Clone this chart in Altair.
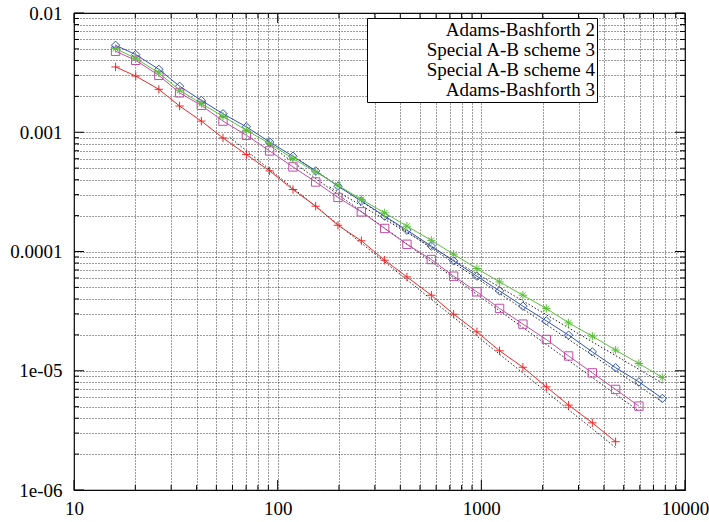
import altair as alt
import pandas as pd

# ---------------- data ----------------
series_names = ["Adams-Bashforth 2", "Special A-B scheme 3",
                "Special A-B scheme 4", "Adams-Bashforth 3"]

x_values = [16.0, 20.1, 26.1, 33.0, 42.2, 53.9, 70.2, 91.3, 118.9, 153.7,
            197.8, 257.6, 335.2, 431.2, 568.3, 731, 951, 1229, 1600, 2085,
            2683, 3507, 4564, 5938, 7736]

ab2_err = [3.53e-3, 2.96e-3, 2.29e-3, 1.66e-3, 1.24e-3, 8.96e-4, 6.50e-4,
           4.74e-4, 3.31e-4, 2.40e-4, 1.66e-4, 1.23e-4, 8.45e-5, 6.12e-5,
           4.30e-5, 2.98e-5, 2.12e-5, 1.47e-5, 1.07e-5, 7.33e-6, 5.15e-6,
           3.66e-6, 2.54e-6]
sab3_err = [4.78e-3, 4.01e-3, 3.00e-3, 2.14e-3, 1.68e-3, 1.24e-3, 9.44e-4,
            6.97e-4, 5.12e-4, 3.83e-4, 2.84e-4, 2.15e-4, 1.56e-4, 1.15e-4,
            8.57e-5, 6.21e-5, 4.59e-5, 3.33e-5, 2.46e-5, 1.83e-5, 1.33e-5,
            9.60e-6, 6.97e-6, 5.05e-6]
sab4_err = [5.36e-3, 4.48e-3, 3.37e-3, 2.43e-3, 1.85e-3, 1.43e-3, 1.11e-3,
            8.29e-4, 6.29e-4, 4.74e-4, 3.53e-4, 2.65e-4, 1.98e-4, 1.51e-4,
            1.11e-4, 8.34e-5, 6.21e-5, 4.67e-5, 3.48e-5, 2.62e-5, 1.99e-5,
            1.44e-5, 1.06e-5, 8.07e-6, 5.86e-6]
ab3_err = [5.03e-3, 4.17e-3, 3.14e-3, 2.25e-3, 1.74e-3, 1.36e-3, 1.04e-3,
           8.04e-4, 6.02e-4, 4.65e-4, 3.59e-4, 2.73e-4, 2.11e-4, 1.63e-4,
           1.24e-4, 9.49e-5, 7.20e-5, 5.56e-5, 4.30e-5, 3.33e-5, 2.52e-5,
           1.95e-5, 1.49e-5, 1.15e-5, 8.79e-6]

# dotted reference lines (one per scheme): start / end points
ref_x_start = [58.1, 91.3, 128.3, 180.0]
ref_y_start = [9.08e-4, 7.77e-4, 5.81e-4, 3.48e-4]
ref_x_end = [4564, 5938, 7736, 7736]
ref_y_end = [2.27e-6, 4.59e-6, 5.49e-6, 7.87e-6]

x_major_ticks = [10, 100, 1000, 10000]
x_major_labels = ["10", "100", "1000", "10000"]
y_major_ticks = [1e-6, 1e-5, 1e-4, 1e-3, 1e-2]
y_major_labels = ["1e-06", "1e-05", "0.0001", "0.001", "0.01"]

# ---------------- styling ----------------
colors = ["#f02828", "#c44ba8", "#3456b4", "#5cbf3c"]
marker_paths = [
    "M-1,0H1M0,-1V1",
    "M-1,-1H1V1H-1Z",
    "M0,-1L1,0L0,1L-1,0Z",
    "M-1,0H1M0,-1V1M-0.7,-0.7L0.7,0.7M-0.7,0.7L0.7,-0.7",
]
legend_paths = [
    "M-1,0H1M0,-0.16V0.16M1.33,0",
    "M-1,0H1M-0.15,-0.15H0.15V0.15H-0.15ZM1.33,0",
    "M-1,0H1M0,-0.13L0.13,0L0,0.13L-0.13,0ZM1.33,0",
    "M-1,0H1M0,-0.16V0.16M-0.11,-0.11L0.11,0.11M-0.11,0.11L0.11,-0.11M1.33,0",
]
W, H = 611, 477
FONT = "Liberation Serif, Times New Roman, DejaVu Serif, serif"
FS = 19

# ---------------- tables ----------------
all_err = [ab2_err, sab3_err, sab4_err, ab3_err]
rows = []
for name, errs in zip(series_names, all_err):
    for xv, yv in zip(x_values, errs):
        rows.append({"series": name, "x": xv, "y": yv})
df = pd.DataFrame(rows)

ref_rows = []
for i, name in enumerate(series_names):
    ref_rows.append({"ref": name, "x": ref_x_start[i], "y": ref_y_start[i]})
    ref_rows.append({"ref": name, "x": ref_x_end[i], "y": ref_y_end[i]})
ref_df = pd.DataFrame(ref_rows)

x_minor_ticks = [k * 10 ** e for e in (1, 2, 3) for k in range(2, 10)]
y_minor_ticks = [k * 10.0 ** e for e in (-6, -5, -4, -3) for k in range(2, 10)]


def label_expr(vals, labels):
    expr = "''"
    for v, l in zip(vals, labels):
        expr = f"datum.value == {v!r} ? '{l}' : ({expr})"
    return expr


x_scale = alt.Scale(type="log", domain=[10, 10000], nice=False)
y_scale = alt.Scale(type="log", domain=[1e-6, 1e-2], nice=False)
stroke_scale = alt.Scale(domain=series_names, range=colors)

grid_kw = dict(grid=True, gridDash=[1, 2], gridColor="#222222", gridOpacity=1,
               gridWidth=0.9, ticks=False, domain=False, labelFont=FONT,
               labelFontSize=FS, labelColor="black", labelFlush=False,
               labelOverlap=False)
x_axis = alt.Axis(values=x_major_ticks + x_minor_ticks,
                  labelExpr=label_expr(x_major_ticks, x_major_labels),
                  labelPadding=9, **grid_kw)
y_axis = alt.Axis(values=y_major_ticks + y_minor_ticks,
                  labelExpr=label_expr(y_major_ticks, y_major_labels),
                  labelPadding=12, **grid_kw)

X = alt.X("x:Q", scale=x_scale, axis=x_axis, title=None)
Y = alt.Y("y:Q", scale=y_scale, axis=y_axis, title=None)

refs = alt.Chart(ref_df).mark_line(color="#222222", strokeWidth=1,
                                   strokeDash=[1.5, 2], clip=True).encode(
    x=X, y=Y, detail="ref:N")

series_layers = []
for name, col, path in zip(series_names, colors, marker_paths):
    sub = alt.Chart(df).transform_filter(alt.datum.series == name)
    series_layers.append(sub.mark_line(color=col, strokeWidth=1, clip=True)
                         .encode(x=X, y=Y))
    series_layers.append(sub.mark_point(shape=path, filled=False, size=70,
                                        strokeWidth=1, opacity=1, color=col,
                                        clip=True).encode(x=X, y=Y))

leg = alt.Legend(title=None, orient="none", legendX=293, legendY=5,
                 labelFont=FONT, labelFontSize=FS, labelColor="black",
                 labelAlign="right", labelOffset={"expr": "-68"},
                 symbolOffset=239, labelLimit=400, symbolSize=2916,
                 clipHeight=19, padding=2, rowPadding=0, fillColor="white",
                 strokeColor="black", symbolStrokeWidth=1)
legend_layer = alt.Chart(df).transform_filter("false").mark_point(
    filled=False, strokeWidth=1, opacity=1, size=2916).encode(
    x=X, y=Y,
    stroke=alt.Stroke("series:N", scale=stroke_scale, legend=leg),
    shape=alt.Shape("series:N",
                    scale=alt.Scale(domain=series_names, range=legend_paths),
                    legend=leg))


def tick_layer(vals, axis, length, far):
    if axis == "x":
        tdf = pd.DataFrame({"x": vals})
        y0 = 0 if far else H
        y1 = length if far else H - length
        return alt.Chart(tdf).mark_rule(color="black", strokeWidth=1).encode(
            x=X, y=alt.value(y0), y2=alt.value(y1))
    tdf = pd.DataFrame({"y": vals})
    x0 = W if far else 0
    x1 = W - length if far else length
    return alt.Chart(tdf).mark_rule(color="black", strokeWidth=1).encode(
        y=Y, x=alt.value(x0), x2=alt.value(x1))


ticks = []
for far in (False, True):
    ticks.append(tick_layer(x_major_ticks, "x", 10, far))
    ticks.append(tick_layer(x_minor_ticks, "x", 5, far))
    ticks.append(tick_layer(y_major_ticks, "y", 10, far))
    ticks.append(tick_layer(y_minor_ticks, "y", 5, far))

chart = alt.layer(refs, *series_layers, *ticks, legend_layer).properties(
    width=W, height=H,
    autosize=alt.AutoSizeParams(type="none"),
    padding={"left": 74, "top": 13, "right": 24, "bottom": 32},
    background="white",
).configure(font=FONT).configure_axis(
    labelFont=FONT, labelFontSize=FS, labelColor="black"
).configure_legend(labelFont=FONT).configure_view(stroke="black", strokeWidth=1.2)

chart.save("out.html", embed_options={"renderer": "svg", "actions": False})
